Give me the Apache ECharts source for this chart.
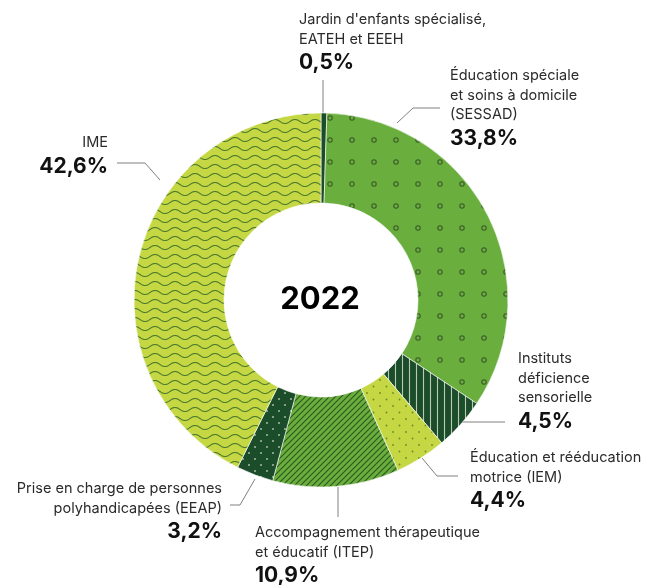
<!DOCTYPE html>
<html>
<head>
<meta charset="utf-8">
<script src="https://cdn.jsdelivr.net/npm/echarts@6/dist/echarts.min.js"></script>
<style>html,body{margin:0;padding:0;background:#fff}#c{width:650px;height:585px}</style>
</head>
<body>
<div id="c"></div>
<script>
// ---- data ----
const categories = [
  "Jardin d'enfants spécialisé,\nEATEH et EEEH",
  "Éducation spéciale\net soins à domicile\n(SESSAD)",
  "Instituts\ndéficience\nsensorielle",
  "Éducation et rééducation\nmotrice (IEM)",
  "Accompagnement thérapeutique\net éducatif (ITEP)",
  "Prise en charge de personnes\npolyhandicapées (EEAP)",
  "IME"
];
const values = [0.5, 33.8, 4.5, 4.4, 10.9, 3.2, 42.6];
const centerTitle = '2022';

// ---- styles ----
const FONT = 'Inter, "Liberation Sans", Arial, sans-serif';
const GREEN = '#6aae3e', DARK = '#1c4d2a', YELLOW = '#c5d843';

function pattern(w, h, bg, draw) {
  const c = document.createElement('canvas');
  c.width = w; c.height = h;
  const ctx = c.getContext('2d');
  ctx.fillStyle = bg; ctx.fillRect(0, 0, w, h);
  draw(ctx);
  return { image: c, repeat: 'repeat' };
}
const fills = [
  DARK,
  pattern(22, 22, GREEN, ctx => { ctx.strokeStyle = '#3a5a28'; ctx.lineWidth = 1.1; [[0, 8], [22, 8]].forEach(p => { ctx.beginPath(); ctx.arc(p[0], p[1], 2.2, 0, Math.PI * 2); ctx.stroke(); }); }),
  pattern(7, 7, DARK, ctx => { ctx.strokeStyle = '#b9c9b5'; ctx.lineWidth = 1.1; ctx.beginPath(); ctx.moveTo(3.5, 0); ctx.lineTo(3.5, 7); ctx.stroke(); }),
  pattern(13, 13, YELLOW, ctx => { ctx.fillStyle = '#6e8a2c'; [[3, 3], [9.5, 9.5]].forEach(p => { ctx.beginPath(); ctx.arc(p[0], p[1], 0.9, 0, Math.PI * 2); ctx.fill(); }); }),
  pattern(6, 6, GREEN, ctx => { ctx.strokeStyle = '#2f5a1f'; ctx.lineWidth = 1.2; ctx.beginPath(); ctx.moveTo(0, 6); ctx.lineTo(6, 0); ctx.moveTo(-1, 1); ctx.lineTo(1, -1); ctx.moveTo(5, 7); ctx.lineTo(7, 5); ctx.stroke(); }),
  pattern(12, 12, DARK, ctx => { ctx.fillStyle = '#a9bba5'; [[3, 3], [9, 9]].forEach(p => { ctx.beginPath(); ctx.arc(p[0], p[1], 1, 0, Math.PI * 2); ctx.fill(); }); }),
  pattern(20, 9, YELLOW, ctx => { ctx.strokeStyle = '#4d7a2e'; ctx.lineWidth = 1.1; ctx.beginPath(); for (let x = -1; x <= 21; x += 0.5) { const y = 4.5 + 2 * Math.sin(2 * Math.PI * x / 20); if (x === -1) ctx.moveTo(x, y); else ctx.lineTo(x, y); } ctx.stroke(); })
];

// label placement (layout only)
const labelPos = [
  { x: 299, y: 10, align: 'left', line: [[323, 113], [323, 97], [323, 80]] },
  { x: 450, y: 66, align: 'left', line: [[397, 123], [413, 108], [440, 108]] },
  { x: 518, y: 349, align: 'left', line: [[462, 422], [484, 422], [505, 422]] },
  { x: 470, y: 448, align: 'left', line: [[422, 458], [437, 476], [458, 476]] },
  { x: 255, y: 523, align: 'left', line: [[338, 487], [338, 502], [338, 517]] },
  { x: 222, y: 479, align: 'right', line: [[255, 479], [240, 505], [230, 505]] },
  { x: 108, y: 133, align: 'right', line: [[160, 180], [145, 163], [117, 163]] }
];

const fmt = v => v.toFixed(1).replace('.', ',') + '%';

const chart = echarts.init(document.getElementById('c'), null, { renderer: 'canvas' });
chart.setOption({
  animation: false,
  backgroundColor: '#ffffff',
  graphic: [{
    type: 'text', x: 320, y: 300,
    style: { text: centerTitle, align: 'center', verticalAlign: 'middle', font: 'bold 31px ' + FONT, fill: '#000' }
  }],
  series: [{
    type: 'pie',
    center: [321, 300],
    radius: [97, 187],
    startAngle: 90,
    clockwise: true,
    avoidLabelOverlap: false,
    emphasis: { disabled: true },
    itemStyle: { borderColor: 'rgba(255,255,255,0.75)', borderWidth: 0.8 },
    data: categories.map((n, i) => ({
      name: n, value: values[i],
      itemStyle: { color: fills[i] },
      label: { align: labelPos[i].align }
    })),
    label: {
      show: true,
      position: 'outside',
      formatter: p => '{n|' + p.name + '}\n{v|' + fmt(p.value) + '}',
      rich: {
        n: { fontFamily: FONT, fontSize: 14.5, lineHeight: 19.5, color: '#2b2b2b' },
        v: { fontFamily: FONT, fontSize: 21, fontWeight: 'bold', lineHeight: 28, color: '#111' }
      }
    },
    labelLine: { show: true, smooth: false, lineStyle: { color: '#808080', width: 1 } },
    labelLayout: p => {
      const L = labelPos[p.dataIndex];
      return { x: L.x, y: L.y, align: L.align, verticalAlign: 'top', labelLinePoints: L.line };
    }
  }]
});
</script>
</body>
</html>
